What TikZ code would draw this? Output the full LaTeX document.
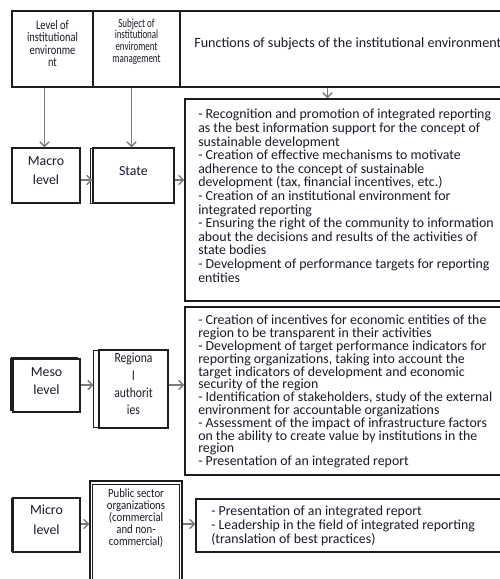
\documentclass[tikz,border=0pt]{standalone}
\usepackage{fontspec}
\setmainfont{Carlito}
\newfontfamily\condA[FakeStretch=0.80]{Carlito}
\newfontfamily\condB[FakeStretch=0.72]{Carlito}
\newfontfamily\condC[FakeStretch=0.86]{Carlito}
\newfontfamily\condD[FakeStretch=0.84]{Carlito}
\usetikzlibrary{arrows.meta,fit}
\definecolor{txt}{HTML}{1A1A2A}
\definecolor{edge}{HTML}{1E1E1E}
\definecolor{conncol}{HTML}{7A7A7A}
\begin{document}
\begin{tikzpicture}[x=0.75pt,y=-0.75pt,
  box/.style={draw=edge, line width=0.9pt, fill=white, inner sep=0pt},
  lab/.style={text=txt, align=center, inner sep=0pt},
  ftext/.style={text=txt, align=left, inner sep=0pt, font=\fontsize{10.4}{10.2}\selectfont},
  conn/.style={draw=conncol, line width=1.1pt, -{Straight Barb[length=3.5pt,width=7pt]}},
  extra/.style={draw=edge, line width=0.7pt}]
\useasboundingbox (0,0) rectangle (500,579);
\clip (0,0) rectangle (500,579);

% header row
\node[box, fit={(12,11) (93,87)}] (h1) {};
\node[box, fit={(93,11) (180,87)}] (h2) {};
\node[box, fit={(180,11) (530,87)}] (h3) {};
\node[lab, font=\condA\fontsize{9.8}{9.3}\selectfont] (h1t) at (52.5,43.5) {Level of\\institutional\\environme\\nt};
\node[lab, font=\condB\fontsize{9.3}{8.8}\selectfont] (h2t) at (136.5,41.5) {Subject of\\institutional\\enviroment\\management};
\node[lab, anchor=west, font=\fontsize{10.6}{10.2}\selectfont] (h3t) at (194,44) {Functions of subjects of the institutional environment};

% function boxes
\node[box, fit={(185,99) (530,301)}] (b1) {};
\node[box, fit={(185,307) (530,475)}] (b2) {};
\node[box, fit={(196,499) (530,552)}] (b3) {};

\node[ftext, anchor=north west] (b1t) at (198,109) {- Recognition and promotion of integrated reporting\\
as the best information support for the concept of\\
sustainable development\\
- Creation of effective mechanisms to motivate\\
adherence to the concept of sustainable\\
development (tax, financial incentives, etc.)\\
- Creation of an institutional environment for\\
integrated reporting\\
- Ensuring the right of the community to information\\
about the decisions and results of the activities of\\
state bodies\\
- Development of performance targets for reporting\\
entities};

\node[ftext, anchor=north west, font=\fontsize{10.4}{9.6}\selectfont] (b2t) at (198,315) {- Creation of incentives for economic entities of the\\
region to be transparent in their activities\\
- Development of target performance indicators for\\
reporting organizations, taking into account the\\
target indicators of development and economic\\
security of the region\\
- Identification of stakeholders, study of the external\\
environment for accountable organizations\\
- Assessment of the impact of infrastructure factors\\
on the ability to create value by institutions in the\\
region\\
- Presentation of an integrated report};

\node[ftext, anchor=north west, font=\fontsize{10.4}{8.8}\selectfont] (b3t) at (211,506) {- Presentation of an integrated report\\
- Leadership in the field of integrated reporting\\
(translation of best practices)};

% level boxes
\draw[extra, line width=1.3pt] (11.5,148.5) -- (11.5,203);
\node[box, fit={(12,148) (80,203)}, lab, font=\fontsize{10.4}{14.25}\selectfont] (macro) {Macro\\level};
\draw[extra] (93,148) -- (90.8,148) -- (90.8,203) -- (93,203);
\node[box, fit={(93,148) (174,203)}, lab, font=\fontsize{10.4}{12}\selectfont] (state) {State};

\draw[extra, line width=1.3pt] (11.2,358) -- (11.2,411) (11.2,357.5) -- (78,357.5);
\node[box, fit={(13,359) (80,412)}, lab, font=\fontsize{10.4}{14}\selectfont] (meso) {Meso\\level};
\draw[extra] (99,350) -- (93.5,350) -- (93.5,427) -- (99,427);
\node[box, fit={(99,350) (168,428)}, lab, font=\condD\fontsize{10.4}{13}\selectfont] (region) {Regiona\\l\\authorit\\ies};

\draw[extra, line width=1.3pt] (12,498) -- (12,552);
\node[box, fit={(13,498) (80,552)}, lab, font=\fontsize{10.4}{15}\selectfont] (micro) {Micro\\level};
\node[box, fit={(90,481) (182,600)}] (pub) {};
\draw[extra, line width=0.6pt] (92.7,600) -- (92.7,484) -- (179.5,484) -- (179.5,600);
\node[lab, font=\condC\fontsize{9.4}{9}\selectfont] (pubt) at (136,518) {Public sector\\organizations\\(commercial\\and non-\\commercial)};

% connectors
\draw[conn] (h1.south -| macro.north) ++(-1.5,0) coordinate (c1) -- (c1 |- macro.north);
\draw[conn] (h2.south -| state.north) ++(-2,0) coordinate (c2) -- (c2 |- state.north);
\coordinate (hx) at (327.5,0);
\draw[conn] (hx |- h3.south) -- (hx |- b1.north);

\coordinate (ya) at (0,180);
\draw[conn] (macro.east |- ya) -- (state.west |- ya);
\draw[conn] (state.east |- ya) -- (b1.west |- ya);

\coordinate (yb) at (0,385);
\draw[conn] (meso.east |- yb) -- (93.5,385);
\draw[conn] (region.east |- yb) -- (b2.west |- yb);

\coordinate (yc) at (0,524);
\draw[conn] (micro.east |- yc) -- (pub.west |- yc);
\draw[conn] (pub.east |- yc) -- (b3.west |- yc);
\end{tikzpicture}
\end{document}
